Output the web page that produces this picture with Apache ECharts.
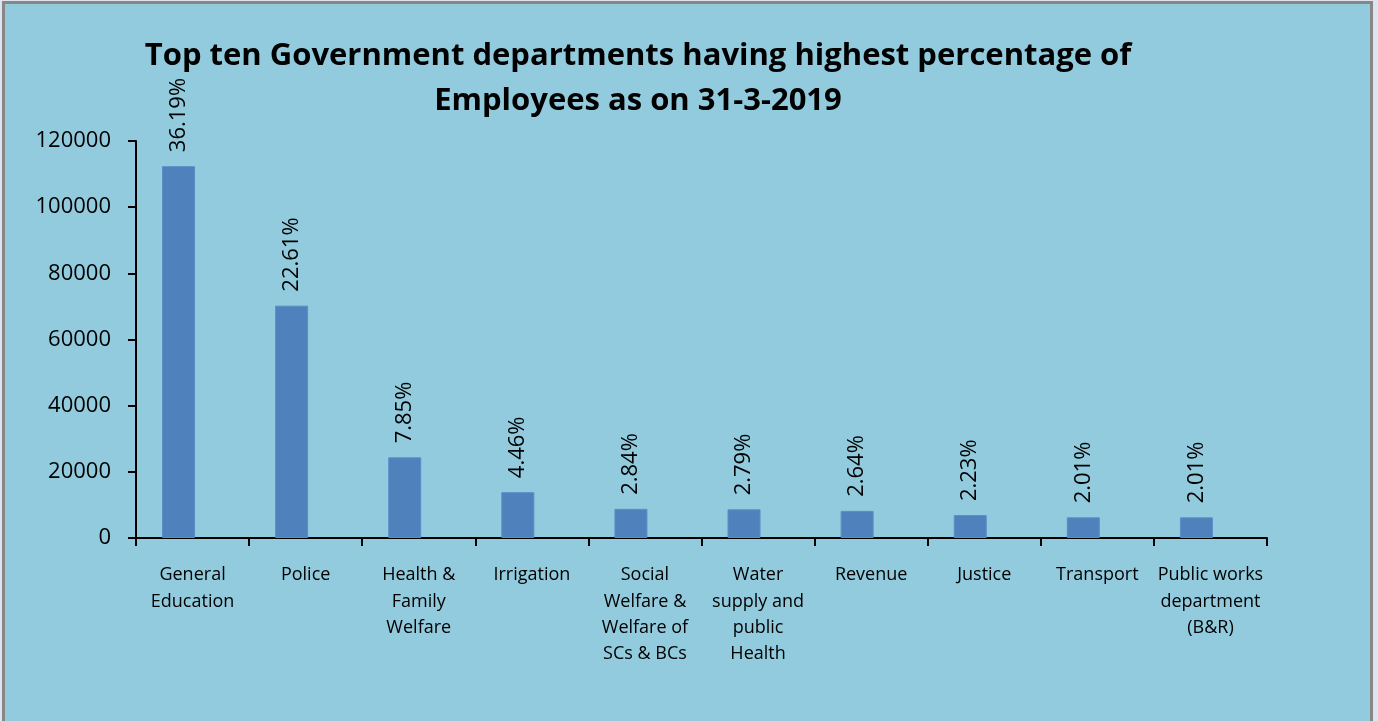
<!DOCTYPE html>
<html><head><meta charset="utf-8">
<script src="https://cdn.jsdelivr.net/npm/echarts@6/dist/echarts.min.js"></script>
<style>
html,body{margin:0;padding:0;width:1378px;height:721px;overflow:hidden;background:#dde4ef;}
#frame{position:absolute;left:2px;top:1px;width:1365px;height:740px;border:3px solid #878787;background:#92cbdd;}
#c{position:absolute;left:0;top:0;width:1378px;height:721px;}
</style></head>
<body><div id="frame"></div><div id="c"></div>
<script>
const categories = ['General\nEducation','Police','Health &\nFamily\nWelfare','Irrigation','Social\nWelfare &\nWelfare of\nSCs & BCs','Water\nsupply and\npublic\nHealth','Revenue','Justice','Transport','Public works\ndepartment\n(B&R)'];
const employees = [112400, 70230, 24380, 13850, 8820, 8670, 8200, 6930, 6240, 6240];
const percentLabels = ['36.19%','22.61%','7.85%','4.46%','2.84%','2.79%','2.64%','2.23%','2.01%','2.01%'];
const yTicks = {min:0, max:120000, interval:20000};
const titleText = 'Top ten Government departments having highest percentage of\nEmployees as on 31-3-2019';

const chart = echarts.init(document.getElementById('c'));
const F = "'Open Sans', sans-serif";
chart.setOption({
  backgroundColor:'transparent',
  animation:false,
  title:{text:titleText, left:633, top:29, textAlign:'center',
    textStyle:{fontFamily:F, fontWeight:'bold', fontSize:31, color:'#000', lineHeight:45}},
  grid:{left:136, top:141, right:111, bottom:183, containLabel:false},
  xAxis:{type:'category', data:categories,
    axisLine:{lineStyle:{color:'#000', width:2}},
    axisTick:{show:true, alignWithLabel:false, length:8, lineStyle:{color:'#000', width:2}},
    axisLabel:{interval:0, fontFamily:F, fontSize:18, color:'#000', lineHeight:26.3, margin:24}},
  yAxis:{type:'value', min:yTicks.min, max:yTicks.max, interval:yTicks.interval,
    splitLine:{show:false},
    axisLine:{show:true, lineStyle:{color:'#000', width:2}},
    axisTick:{show:true, length:8, lineStyle:{color:'#000', width:2}},
    axisLabel:{fontFamily:F, fontSize:22, color:'#000', margin:25, formatter:(v)=>String(v)}},
  series:[{type:'bar', data:employees, barWidth:33, barGap:'-15%',
    itemStyle:{color:'#4f81bd', borderColor:'#5b8ec6', borderWidth:1},
    label:{show:true, position:'top', rotate:90, align:'left', verticalAlign:'middle', distance:14,
      fontFamily:F, fontSize:22, color:'#000',
      formatter:(p)=>percentLabels[p.dataIndex]}},
    {type:'bar', name:'spacer', data:employees.map(()=>null), barWidth:33, silent:true}]
});
</script></body></html>
